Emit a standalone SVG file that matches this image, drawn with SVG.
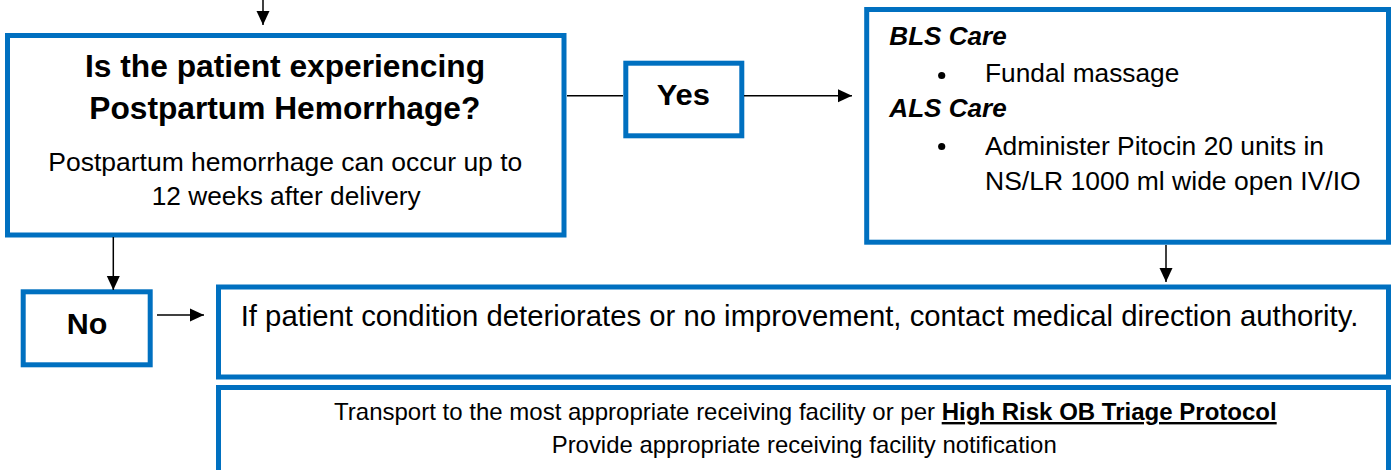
<svg xmlns="http://www.w3.org/2000/svg" width="1391" height="470" viewBox="0 0 1391 470">
<style>
.box{fill:#fff;stroke:#0070C0;stroke-width:5}
.t{font-family:"Liberation Sans",Arial,sans-serif;fill:#000}
.b{font-weight:bold}
.bi{font-weight:bold;font-style:italic}
.conn path{fill:none;stroke:#000;stroke-width:1.5}
</style>
<defs>
<marker id="ah" markerUnits="userSpaceOnUse" markerWidth="14" markerHeight="14" viewBox="0 0 14 14" refX="14" refY="7" orient="auto">
<path d="M0,0.5 L14,7 L0,13.5 z" fill="#000"/>
</marker>
</defs>
<rect width="1391" height="470" fill="#fff"/>
<g id="question">
<rect class="box" x="7.5" y="35.5" width="556.5" height="199.5"/>
<text class="t b" x="85" y="77" font-size="31.7" textLength="400" lengthAdjust="spacingAndGlyphs">Is the patient experiencing</text>
<text class="t b" x="89.3" y="119.3" font-size="31.7" textLength="391" lengthAdjust="spacingAndGlyphs">Postpartum Hemorrhage?</text>
<text class="t" x="48.3" y="170.7" font-size="26.5" textLength="474" lengthAdjust="spacingAndGlyphs">Postpartum hemorrhage can occur up to</text>
<text class="t" x="151.7" y="205" font-size="26.5" textLength="269" lengthAdjust="spacingAndGlyphs">12 weeks after delivery</text>
</g>
<g id="yes">
<rect class="box" x="625.8" y="63.2" width="116" height="72.6"/>
<text class="t b" x="656.7" y="105" font-size="30" textLength="53.3" lengthAdjust="spacingAndGlyphs">Yes</text>
</g>
<g id="care">
<rect class="box" x="866.7" y="9.5" width="521.8" height="232.7"/>
<text class="t bi" x="889.3" y="45" font-size="26" textLength="117.4" lengthAdjust="spacingAndGlyphs">BLS Care</text>
<circle cx="941.7" cy="75.5" r="3.6" fill="#000"/>
<text class="t" x="985" y="81.7" font-size="26.3" textLength="194.3" lengthAdjust="spacingAndGlyphs">Fundal massage</text>
<text class="t bi" x="889.3" y="116.7" font-size="26" textLength="117.4" lengthAdjust="spacingAndGlyphs">ALS Care</text>
<circle cx="941.7" cy="146.5" r="3.6" fill="#000"/>
<text class="t" x="985" y="155" font-size="26.3" textLength="339" lengthAdjust="spacingAndGlyphs">Administer Pitocin 20 units in</text>
<text class="t" x="985" y="190" font-size="26.3" textLength="375.7" lengthAdjust="spacingAndGlyphs">NS/LR 1000 ml wide open IV/IO</text>
</g>
<g id="no">
<rect class="box" x="23.2" y="291.8" width="127" height="73"/>
<text class="t b" x="66.7" y="334" font-size="30" textLength="40.6" lengthAdjust="spacingAndGlyphs">No</text>
</g>
<g id="deteriorate">
<rect class="box" x="218.5" y="287" width="1170" height="90"/>
<text class="t" x="240.7" y="325.7" font-size="29.2" textLength="1117.6" lengthAdjust="spacingAndGlyphs">If patient condition deteriorates or no improvement, contact medical direction authority.</text>
</g>
<g id="transport">
<rect class="box" x="218.5" y="387.5" width="1170" height="100"/>
<text class="t" x="334" y="420" font-size="24" textLength="601" lengthAdjust="spacingAndGlyphs">Transport to the most appropriate receiving facility or per</text>
<text class="t b" x="941.7" y="420" font-size="24" textLength="335" lengthAdjust="spacingAndGlyphs" text-decoration="underline">High Risk OB Triage Protocol</text>
<text class="t" x="551.7" y="452.7" font-size="24" textLength="505" lengthAdjust="spacingAndGlyphs">Provide appropriate receiving facility notification</text>
</g>
<g id="connectors" class="conn">
<path d="M263,0 L263,25" marker-end="url(#ah)"/>
<path d="M567,95.7 L623,95.7"/>
<path d="M744,95.7 L852,95.7" marker-end="url(#ah)"/>
<path d="M113.3,237 L113.3,290" marker-end="url(#ah)"/>
<path d="M157,315 L204,315" marker-end="url(#ah)"/>
<path d="M1166,245 L1166,282" marker-end="url(#ah)"/>
</g>
</svg>
